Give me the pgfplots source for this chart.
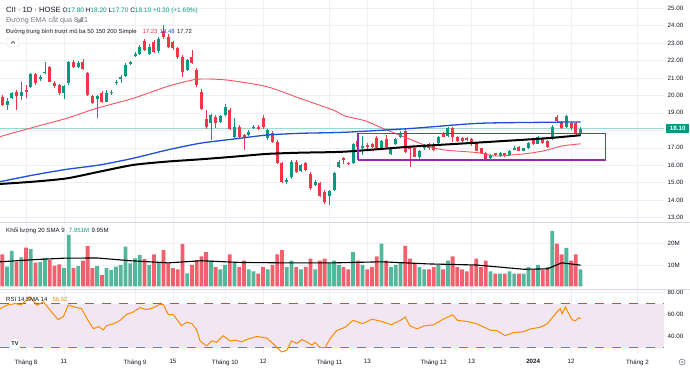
\documentclass[border=0pt]{standalone}
\usepackage{pgfplots}
\pgfplotsset{compat=1.18}
\usepackage{pgfplotstable}
\usepackage{fontspec}
\setmainfont{Liberation Sans}
\definecolor{cG}{HTML}{089981}
\definecolor{cR}{HTML}{F23645}
\definecolor{vG}{HTML}{52B79B}
\definecolor{vR}{HTML}{F0616D}
\definecolor{maR}{HTML}{F7525F}
\definecolor{maB}{HTML}{1E4FD8}
\definecolor{rsiO}{HTML}{FB8C00}
\definecolor{band}{HTML}{F1E6F2}
\definecolor{gridc}{HTML}{EEF0F5}
\definecolor{sepc}{HTML}{D6D9E0}
\definecolor{txt}{HTML}{131722}
\definecolor{txg}{HTML}{787B86}
\definecolor{purp}{HTML}{9C27B0}
\definecolor{rsiB}{HTML}{2196F3}

\pgfplotstableread{
x o h l c v
-4 19.45 19.83 19.16 19.70 9.2
-3 19.83 20.20 19.80 20.12 16.6
-1 19.96 20.78 19.74 20.21 13.6
1 20.46 21.30 20.40 21.20 17.5
3 20.92 21.15 20.85 21.07 11.5
4 21.26 21.89 21.20 21.32 13.4
8 20.12 20.60 19.77 20.54 8.7
9 20.69 21.95 20.60 21.89 24.1
11 21.64 21.95 21.55 21.83 9.5
15 19.77 20.05 18.69 19.96 9.5
17 19.64 20.30 19.60 20.15 8.5
18 20.12 20.30 20.05 20.21 7.7
19 20.69 20.90 20.60 20.78 9.2
20 20.92 21.15 20.70 21.07 10.0
21 21.11 21.85 21.05 21.74 18.6
22 21.79 21.95 21.75 21.89 10.8
23 22.25 22.50 22.20 22.37 13.1
24 22.37 22.90 22.30 22.75 14.7
26 22.37 22.95 22.30 22.79 10.0
28 22.56 23.35 22.45 23.23 11.5
34 21.45 22.10 21.40 22.02 6.1
39 18.44 18.95 17.45 18.88 12
41 18.50 18.90 18.40 18.82 8
42 18.88 19.50 18.80 19.32 10
44 17.60 18.72 17.55 18.21 11
47 17.73 18.00 17.65 17.92 8
48 18.11 18.30 18.05 18.21 7
51 17.54 18.10 17.45 18.02 8
55 15.06 15.25 14.95 15.16 9
56 15.31 16.30 15.20 16.21 12
58 15.69 16.10 15.60 16.02 8
61 14.87 15.15 14.80 15.06 8
64 14.26 14.60 13.75 14.53 11
65 14.59 15.60 14.50 15.54 12
66 15.92 16.30 15.85 16.21 10
69 16.11 17.30 16.05 17.20 16
71 17.00 17.68 16.59 17.10 10
75 16.93 17.45 16.85 17.39 20
77 16.65 17.00 16.60 16.93 9
78 17.20 17.55 17.15 17.49 10
79 17.64 17.95 17.55 17.87 11
83 16.49 16.90 16.26 16.84 9
84 16.97 17.20 16.90 17.12 8
87 17.26 17.70 17.20 17.64 10
89 17.68 18.20 17.60 18.11 12
98 16.40 16.65 16.26 16.59 7
100 16.53 16.78 16.50 16.72 6
102 16.59 16.85 16.55 16.80 7
103 16.87 17.10 16.85 16.97 6
105 16.84 17.00 16.80 16.97 6
106 16.97 17.35 16.95 17.26 9
108 17.22 17.70 17.20 17.60 10
111 17.49 18.30 17.45 18.21 26
114 18.21 18.90 18.15 18.82 18
117 17.80 18.20 17.70 18.10 7.951
}\greentab

\pgfplotstableread{
x o h l c v
-5 19.93 20.00 19.40 19.45 15.0
-2 20.21 20.31 19.16 19.96 11.5
0 20.31 20.59 19.83 20.19 18.1
2 21.20 21.30 20.60 20.69 11.1
5 21.60 21.70 20.75 20.78 12.3
6 20.69 20.80 20.45 20.54 9.7
7 20.59 20.65 20.05 20.12 10.3
10 21.89 22.00 21.55 21.64 8.7
12 21.89 22.10 21.45 21.51 12.0
13 21.26 21.35 19.95 20.02 18.9
14 19.98 20.05 19.50 19.54 8.5
16 20.15 20.25 19.55 19.60 5.3
25 23.11 23.20 22.55 22.60 12.7
27 23.03 23.15 22.40 22.50 15.0
29 23.70 24.05 23.25 23.36 17.0
30 23.36 23.50 22.70 22.79 10.8
31 23.03 23.10 22.60 22.69 8.5
32 22.69 22.75 22.10 22.21 8.0
33 22.21 22.30 21.07 21.32 19.9
35 22.18 22.60 21.80 21.87 10.0
36 21.45 21.55 20.50 20.59 12.3
37 20.21 20.35 19.15 19.22 14
38 18.65 19.16 18.10 18.17 16
40 18.78 18.85 18.11 18.40 9
43 19.16 19.25 18.00 18.06 15
45 18.21 18.30 17.55 17.60 9
46 17.73 17.80 16.87 17.54 12
49 18.21 18.30 18.00 18.08 6
50 18.69 18.88 18.10 18.17 9
52 17.83 17.95 17.30 17.35 10
53 17.35 17.45 16.10 16.15 15
54 16.11 16.20 15.00 15.06 17
57 16.21 16.30 15.55 15.64 9
59 16.11 16.20 15.65 15.73 9
60 15.50 15.60 14.60 14.68 13
62 14.97 15.05 14.20 14.26 12
63 14.49 14.60 13.80 13.88 13
67 16.40 16.45 16.10 16.30 9
68 16.15 16.20 16.00 16.07 8
70 17.39 17.50 17.00 17.07 12
72 17.16 17.25 16.95 17.07 8
73 17.20 17.30 17.00 17.07 9
74 17.58 17.65 16.90 16.97 14
76 17.49 17.73 17.00 17.07 12
80 17.98 18.11 16.70 16.78 19
81 16.97 17.05 15.92 16.91 13
82 17.01 17.10 16.45 16.49 11
85 17.20 17.30 16.90 16.97 8
86 17.16 17.25 16.80 16.87 9
88 17.83 17.90 17.60 17.64 8
90 18.15 18.20 17.35 17.60 14
91 17.64 17.70 17.35 17.39 9
92 17.54 17.60 17.35 17.41 8
93 17.54 17.60 17.40 17.45 7
94 17.50 17.55 17.10 17.20 10
95 17.30 17.35 16.80 16.84 13
96 16.97 17.00 16.65 16.72 9
97 16.68 16.75 16.25 16.30 12
99 16.68 16.72 16.55 16.61 6
101 16.68 16.72 16.50 16.53 6
104 17.03 17.10 16.80 16.84 6
107 17.45 17.50 17.15 17.22 8
109 17.52 17.60 17.20 17.26 8
110 17.39 17.45 17.00 17.07 9
112 18.74 18.85 18.50 18.55 20
113 18.50 18.55 18.10 18.15 15
115 18.44 18.50 18.00 18.11 12
116 18.44 18.50 17.70 17.79 15
}\redtab

\pgfplotsset{
  tvaxis/.style={
    scale only axis, width=664pt, xmin=-5.49, xmax=134.6,
    axis line style={draw=none}, major tick length=0pt,
    xtick={0,8,23,31,42,50,64,72,86,94,107,115,129},
    xmajorgrids, ymajorgrids, grid style={gridc, line width=0.6pt},
    yticklabel pos=right,
    yticklabel style={font=\fontsize{6.2}{7}\selectfont, text=txt, anchor=west, inner sep=0pt, xshift=3.5pt},
  },
  candlewick/.style={draw=none, mark=none, forget plot,
    error bars/.cd, y dir=plus, y explicit, error mark=none,
    error bar style={line width=0.6pt, draw=#1, solid}},
  candlebody/.style={draw=none, mark=none, forget plot,
    error bars/.cd, y dir=plus, y explicit, error mark=none,
    error bar style={line width=3pt, draw=#1, solid}},
}

\begin{document}
\begin{tikzpicture}
\path[use as bounding box, fill=white] (0,0) rectangle (690pt,-371pt);

% ---------------- price pane
\begin{axis}[tvaxis, at={(0pt,0pt)}, anchor=north west, height=222pt,
  ymin=12.754, ymax=25.458,
  ytick={13,14,15,16,17,18,19,20,21,22,23,24,25},
  yticklabels={13.00,14.00,15.00,16.00,17.00,,19.00,20.00,21.00,22.00,23.00,24.00,25.00},
  xticklabels={}]
  \addplot[cG!40, line width=0.5pt, forget plot] coordinates {(-6,18.10) (135,18.10)};
  \addplot[candlewick=cG] table[x=x, y=l, y error expr={\thisrow{h}-\thisrow{l}}] {\greentab};
  \addplot[candlewick=cR] table[x=x, y=l, y error expr={\thisrow{h}-\thisrow{l}}] {\redtab};
  \addplot[candlebody=cG] table[x=x, y expr={min(\thisrow{o},\thisrow{c})}, y error expr={max(abs(\thisrow{c}-\thisrow{o}),0.05)}] {\greentab};
  \addplot[candlebody=cR] table[x=x, y expr={min(\thisrow{o},\thisrow{c})}, y error expr={max(abs(\thisrow{c}-\thisrow{o}),0.05)}] {\redtab};
  % MA 50
  \addplot[maR, line width=0.9pt, smooth, tension=0.4] coordinates {
    (-5.5,17.64) (1.5,18.17) (8.6,18.69) (14.9,19.26) (22.6,19.83) (29.7,20.50) (36,20.92)
    (42.3,20.88) (50.8,20.50) (57.8,19.83) (64.8,19.16) (67.3,18.82) (71.5,18.55) (75.7,18.06)
    (80,17.60) (84.9,17.07) (88.4,16.87) (95.4,16.72) (98.9,16.53) (102.5,16.59) (106,16.68)
    (109.5,16.84) (113,17.10) (117,17.23)};
  % MA 150
  \addplot[maB, line width=1.3pt, smooth, tension=0.4] coordinates {
    (-5.5,15.06) (1.5,15.44) (8.6,15.77) (15.6,16.02) (22.6,16.40) (29.7,16.87) (36.7,17.26)
    (43.8,17.50) (50.8,17.73) (57.8,17.83) (67.3,17.89) (81.4,18.11) (95.4,18.40) (109.5,18.46) (117,18.48)};
  % MA 200
  \addplot[black, line width=2pt, smooth, tension=0.4] coordinates {
    (-5.5,14.93) (1.5,15.06) (8.6,15.25) (15.6,15.64) (22.6,16.02) (29.7,16.21) (36.7,16.34)
    (43.8,16.49) (50.8,16.65) (57.8,16.72) (67.3,16.78) (81.4,17.07) (95.4,17.30) (109.5,17.54) (117,17.72)};
  % box
  \addplot[purp, line width=1.4pt] coordinates {(70,16.30) (122.2,16.30) (122.2,17.83) (70,17.83) (70,16.30)};
\end{axis}

% ---------------- volume pane
\begin{axis}[tvaxis, at={(0pt,-222pt)}, anchor=north west, height=68pt,
  ymin=-1.74, ymax=30.19, ytick={10,20}, yticklabels={10M,20M}, xticklabels={}]
  \addplot[ybar, bar width=0.8, bar shift=0pt, fill=vG, draw=none, forget plot] table[x=x, y=v] {\greentab};
  \addplot[ybar, bar width=0.8, bar shift=0pt, fill=vR, draw=none, forget plot] table[x=x, y=v] {\redtab};
  \addplot[black, line width=1.1pt] coordinates {
    (-5.5,11.5) (1.6,12.5) (8,13.2) (15,13.3) (22,12) (30,11) (37,12) (45,11.2) (55,11)
    (65,11) (75,11.5) (85,10.5) (95,10) (105,8) (110,8.2) (113,11) (117,9.95)};
\end{axis}

% ---------------- RSI pane
\begin{axis}[tvaxis, at={(0pt,-290pt)}, anchor=north west, height=63pt,
  ymin=25.35, ymax=82.5, ytick={40,60,80}, yticklabels={40.00,60.00,80.00},
  xticklabels={Tháng 8,11,Tháng 9,15,Tháng 10,12,Tháng 11,13,Tháng 12,13,\textbf{2024},12,Tháng 2},
  xticklabel style={font=\fontsize{6.2}{7}\selectfont, text=txt, yshift=-3pt}]
  \addplot[draw=none, fill=band, forget plot] coordinates {(-6,30) (136,30) (136,70) (-6,70)};
  \addplot[cR, line width=1.1pt, dash pattern=on 9pt off 8pt, forget plot] coordinates {(-5.49,70) (134.6,70)};
  \addplot[rsiB, line width=1.1pt, dash pattern=on 9pt off 8pt, forget plot] coordinates {(-5.49,30) (134.6,30)};
  \addplot[rsiO, line width=1pt] coordinates {
    (-5.5,65.6) (-4.1,68.7) (-2.3,70.2) (-1,69) (0.8,76.3) (2.3,68.7) (3.7,71.7) (5.1,64)
    (6.8,55.5) (7.9,58.5) (8.9,68.7) (10.3,67) (11.7,65.6) (13.1,54.8) (14.2,47.4) (15.3,49.3)
    (16.3,46.3) (17,50.2) (18.4,51.8) (19.8,54.8) (21.2,60.4) (22.6,62.5) (24,66.5) (25.5,64.7)
    (26.9,66.5) (28.3,69.6) (29,69) (30,60.4) (31.1,60) (32.8,50.2) (33.9,53.3) (35,52) (36,46.3)
    (36.7,36.4) (38.1,31.8) (39.2,36.4) (40.2,35) (41.6,41) (43,36.4) (44.1,37) (45.5,35.5)
    (46.8,38) (48.7,40.4) (50.8,39) (52.2,33.4) (53.9,26.3) (55,27.7) (56,36.4) (57.1,34)
    (58.2,37.5) (59.2,35.5) (60.3,32.6) (61,35) (62,30.2) (63.1,30.2) (64.1,38) (65.5,45.6)
    (67.3,48.7) (69,55) (71,52) (73,56) (75,54) (77,51) (79,55) (80,58) (81,50) (82.5,47.2)
    (84,50) (86,51) (88,56) (90,60) (91,55) (93,54) (95,52) (97,48) (98,46) (99.4,45.6)
    (101.1,41) (102.9,44) (105,44.7) (106.4,47.2) (108.5,48.7) (110,52) (112,62.5) (112.7,65.6)
    (113.1,61) (113.8,67.1) (114.5,61) (115.2,55.5) (115.9,54.6) (116.6,57.3) (117,56.52)};
\end{axis}

% separators
\draw[sepc, line width=0.8pt] (0pt,-222pt) -- (690pt,-222pt);
\draw[sepc, line width=0.8pt] (0pt,-289.5pt) -- (690pt,-289.5pt);

% price label
\node[fill=cG, text=white, font=\fontsize{6.2}{7}\selectfont\bfseries, inner sep=0pt,
  minimum width=23pt, minimum height=9.5pt, anchor=west] at (666pt,-128.5pt) {18.10};

% legends
\node[anchor=west, inner sep=0pt, font=\fontsize{7.6}{9}\selectfont, text=txt] at (6pt,-11pt)
  {CII · 1D · HOSE\hspace{2pt}{\fontsize{6.5}{8}\selectfont O{\color{cG}17.80} H{\color{cG}18.20} L{\color{cG}17.70} C{\color{cG}18.10} {\color{cG}+0.30 (+1.69\%)}}};
\node[anchor=west, inner sep=0pt, font=\fontsize{7.2}{8}\selectfont, text=txg] at (6pt,-20.5pt)
  {Đường EMA cắt qua 8.21};
\draw[txg, line width=0.5pt] (80pt,-20.5pt) ellipse (2.6pt and 1.6pt);
\fill[txg] (80pt,-20.5pt) circle (0.7pt);
\draw[txg, line width=0.5pt] (77.5pt,-23pt) -- (82.5pt,-18pt);
\node[anchor=west, inner sep=0pt, font=\fontsize{5.9}{7}\selectfont, text=txt] at (6pt,-32pt)
  {Đường trung bình trượt mũ ba 50 150 200 Simple\hspace{6pt}{\color{cR}17.23}\hspace{2.5pt}{\color{maB}18.48}\hspace{2.5pt}17.72};
\draw[sepc, fill=white, rounded corners=1.5pt] (7pt,-38pt) rectangle (19pt,-47pt);
\draw[txt, line width=0.5pt] (11pt,-43.5pt) -- (13pt,-41.5pt) -- (15pt,-43.5pt);

\node[anchor=west, inner sep=0pt, font=\fontsize{6.1}{8}\selectfont, text=txt] at (6pt,-230.7pt)
  {Khối lượng 20 SMA 9\hspace{4pt}{\color{cG}7.951M}\hspace{2.5pt}9.95M};
\node[anchor=west, inner sep=0pt, font=\fontsize{6}{8}\selectfont, text=txt] at (6pt,-299.3pt)
  {RSI 14 SMA 14\hspace{5pt}{\color{rsiO}56.52}};

% TV logo
\fill[white, draw=sepc, line width=0.4pt] (15pt,-344pt) circle (6pt);
\node[font=\fontsize{5.5}{6}\selectfont\bfseries, text=txt, inner sep=0pt] at (15pt,-344pt) {TV};
% gear
\draw[txg, line width=0.6pt] (682pt,-362pt) circle (3pt);
\fill[txg] (682pt,-362pt) circle (1pt);
\end{tikzpicture}
\end{document}
